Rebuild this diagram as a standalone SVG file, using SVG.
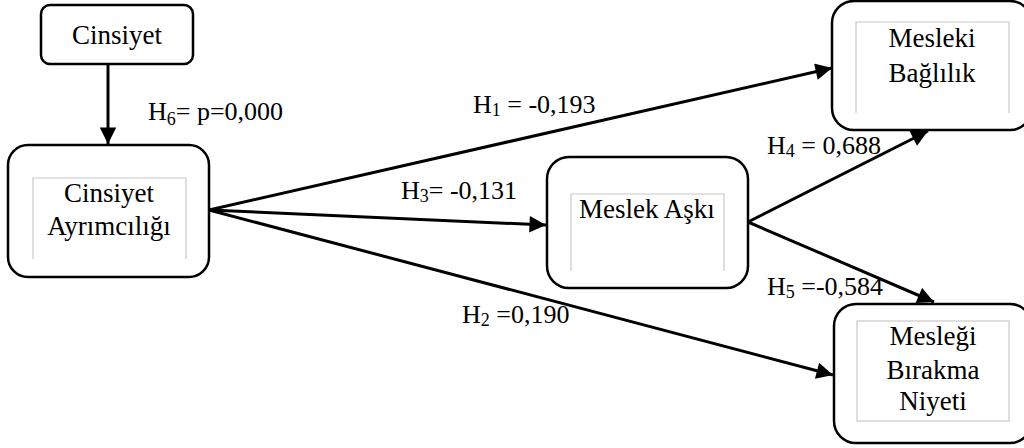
<svg xmlns="http://www.w3.org/2000/svg" width="1024" height="448" viewBox="0 0 1024 448">
<defs>
<marker id="ah" viewBox="0 0 10 10" refX="10" refY="5" markerWidth="6" markerHeight="5.5" markerUnits="strokeWidth" orient="auto">
<path d="M0,0 L10,5 L0,10 z" fill="#000"/>
</marker>
</defs>
<style>
.box{fill:#fff;stroke:#000;stroke-width:2.5}
.inner{fill:none;stroke:#c8c8c8;stroke-width:1.2}
.t{font-family:"Liberation Serif",serif;font-size:27px;fill:#000;text-anchor:middle}
.lbl{font-family:"Liberation Serif",serif;font-size:26px;fill:#000}
.sub{font-size:18px}
.c{stroke:#000;stroke-width:3;fill:none;marker-end:url(#ah)}
</style>
<rect width="1024" height="448" fill="#fff"/>
<g id="connectors">
<line class="c" x1="108" y1="65" x2="108" y2="144"/>
<line class="c" x1="209" y1="210" x2="832" y2="68"/>
<line class="c" x1="209" y1="210" x2="546" y2="225"/>
<line class="c" x1="209" y1="210" x2="833" y2="375"/>
<line class="c" x1="748" y1="222" x2="928" y2="131"/>
<line class="c" x1="748" y1="222" x2="934" y2="302"/>
</g>
<g id="cinsiyet">
<rect class="box" x="41" y="5" width="152" height="59" rx="9"/>
<text class="t" x="117" y="44">Cinsiyet</text>
</g>
<g id="cinsiyet-ayrimciligi">
<rect class="box" x="8" y="145" width="201" height="132" rx="20"/>
<path class="inner" d="M33,259 V178 H186 V259"/>
<text class="t" x="109" y="202">Cinsiyet</text>
<text class="t" x="109" y="235">Ayrımcılığı</text>
</g>
<g id="meslek-aski">
<rect class="box" x="547" y="157" width="201" height="131" rx="22"/>
<path class="inner" d="M571,271 V194 H724 V271"/>
<text class="t" x="647" y="218">Meslek Aşkı</text>
</g>
<g id="mesleki-baglilik">
<rect class="box" x="832" y="1" width="200" height="129" rx="22"/>
<path class="inner" d="M856,113 V22 H1009 V113"/>
<text class="t" x="932" y="47">Mesleki</text>
<text class="t" x="932" y="82">Bağlılık</text>
</g>
<g id="meslegi-birakma-niyeti">
<rect class="box" x="834" y="304" width="198" height="139" rx="22"/>
<rect class="inner" x="857" y="321" width="152" height="100"/>
<text class="t" x="933" y="345">Mesleği</text>
<text class="t" x="933" y="379">Bırakma</text>
<text class="t" x="933" y="410">Niyeti</text>
</g>
<g id="labels">
<text class="lbl" x="148" y="120">H<tspan class="sub" dy="5">6</tspan><tspan dy="-5">= p=0,000</tspan></text>
<text class="lbl" x="473" y="113">H<tspan class="sub" dy="3">1</tspan><tspan dy="-3"> = -0,193</tspan></text>
<text class="lbl" x="401" y="199">H<tspan class="sub" dy="3">3</tspan><tspan dy="-3">= -0,131</tspan></text>
<text class="lbl" x="462" y="323">H<tspan class="sub" dy="3">2</tspan><tspan dy="-3"> =0,190</tspan></text>
<text class="lbl" x="767" y="154">H<tspan class="sub" dy="3">4</tspan><tspan dy="-3"> = 0,688</tspan></text>
<text class="lbl" x="767" y="295">H<tspan class="sub" dy="3">5</tspan><tspan dy="-3"> =-0,584</tspan></text>
</g>
</svg>
